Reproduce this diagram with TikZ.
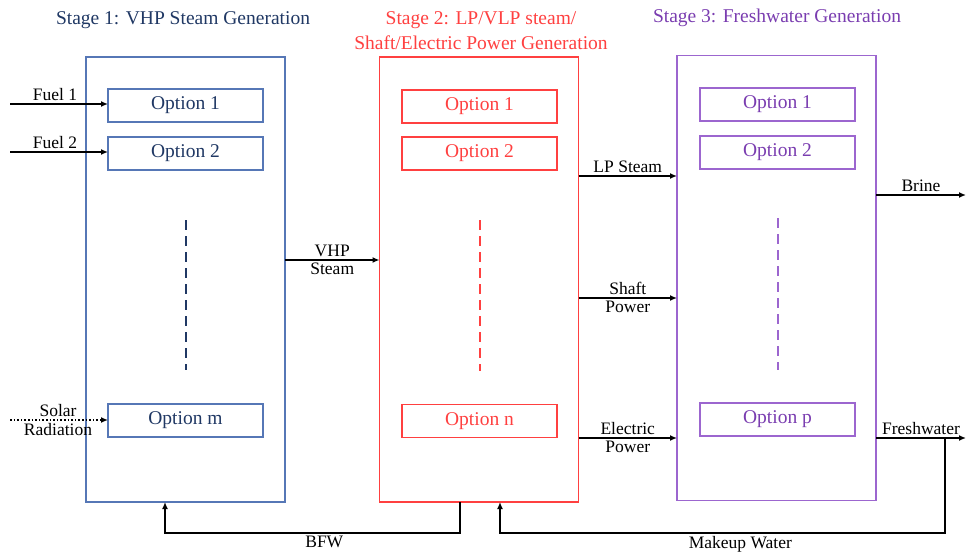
\documentclass[tikz,border=0pt]{standalone}
\usepackage{fontspec}
\setmainfont{Liberation Serif}
\newfontfamily\timesface{Liberation Serif}
\usetikzlibrary{arrows.meta}

\definecolor{soneline}{HTML}{5677B6}
\definecolor{sonetext}{HTML}{203864}
\definecolor{stwoline}{HTML}{FF4040}
\definecolor{sthreeline}{HTML}{9C66CF}
\definecolor{sthreetext}{HTML}{7A3DB0}

\begin{document}
\begin{tikzpicture}[
  x=1pt, y=-1pt,
  stage/.style ={draw, line width=1.1pt, minimum width=199pt, minimum height=445pt,
                 inner sep=0pt, outer sep=0pt},
  opt/.style   ={draw, line width=1.1pt, minimum width=155pt, minimum height=33pt,
                 inner sep=0pt, outer sep=0pt, font=\timesface\fontsize{19.5}{21}\selectfont},
  ttl/.style   ={align=center, font=\timesface\fontsize{19.5}{25}\selectfont},
  lbl/.style   ={font=\timesface\fontsize{17.5}{19}\selectfont, inner sep=2.5pt},
  arr/.style   ={-{Latex[length=7pt,width=6pt]}, line width=1.8pt},
  darr/.style  ={-{Latex[length=7pt,width=6pt]}, line width=1.6pt, dotted},
  vdash/.style ={dash pattern=on 10pt off 6pt, line width=2pt},
]
\useasboundingbox (0,0) rectangle (967,557);

%% ---- Stage 1: VHP steam ----
\node[ttl, text=sonetext] (t1) at (183,20) {Stage 1: VHP Steam Generation};
\node[stage, draw=soneline] (s1) at (185.5,279.5) {};
\node[opt, draw=soneline, text=sonetext] (a1) at (185.5,105.5) {Option 1};
\node[opt, draw=soneline, text=sonetext] (a2) at (185.5,153.5) {Option 2};
\node[opt, draw=soneline, text=sonetext] (am) at (185.5,420.5) {Option m};
\draw[vdash, draw=sonetext] ([yshift=-50pt]a2.south) -- ([yshift=34pt]am.north);

%% ---- Stage 2: LP/VLP steam, shaft and electric power ----
\node[ttl, text=stwoline] (t2) at (481,30.5) {Stage 2: LP/VLP steam/\\Shaft/Electric Power Generation};
\node[stage, draw=stwoline] (s2) at (479,279.5) {};
\node[opt, draw=stwoline, text=stwoline] (b1) at (479.5,106.5) {Option 1};
\node[opt, draw=stwoline, text=stwoline] (b2) at (479.5,153.5) {Option 2};
\node[opt, draw=stwoline, text=stwoline] (bn) at (479.5,421) {Option n};
\draw[vdash, draw=stwoline] ([yshift=-50pt]b2.south) -- ([yshift=34pt]bn.north);

%% ---- Stage 3: freshwater ----
\node[ttl, text=sthreetext] (t3) at (777,18) {Stage 3: Freshwater Generation};
\node[stage, draw=sthreeline] (s3) at (776.5,278) {};
\node[opt, draw=sthreeline, text=sthreetext] (c1) at (777.5,104.5) {Option 1};
\node[opt, draw=sthreeline, text=sthreetext] (c2) at (777.5,152.5) {Option 2};
\node[opt, draw=sthreeline, text=sthreetext] (cp) at (777.5,419.5) {Option p};
\draw[vdash, draw=sthreeline] ([yshift=-49pt]c2.south) -- ([yshift=33pt]cp.north);

%% free ends
\coordinate (fuel1) at (10,104);
\coordinate (fuel2) at (10,152);
\coordinate (solar) at (10,420);
\coordinate (brine) at (966,195);
\coordinate (fresh) at (966,438);
\coordinate (fwtap) at (945,438);

%% ---- Arrows ----
%% feeds into stage 1
\draw[arr] (fuel1) -- (fuel1 -| a1.west) node[lbl, midway, above, xshift=-4pt]{Fuel 1};
\draw[arr] (fuel2) -- (fuel2 -| a2.west) node[lbl, midway, above, xshift=-4pt]{Fuel 2};
\draw[darr] (solar) -- (solar -| am.west)
  node[lbl, midway, above, xshift=-1pt]{Solar} node[lbl, midway, below, xshift=-1pt]{Radiation};
%% stage 1 -> stage 2
\draw[arr] ([yshift=19.5pt]s1.east) coordinate (vhp) -- (vhp -| s2.west)
  node[lbl, midway, above]{VHP} node[lbl, midway, below]{Steam};
%% stage 2 -> stage 3
\draw[arr] ([yshift=103.5pt]s2.east) coordinate (lp) -- (lp -| s3.west)
  node[lbl, midway, above]{LP Steam};
\draw[arr] ([yshift=-18.5pt]s2.east) coordinate (shaft) -- (shaft -| s3.west)
  node[lbl, midway, above]{Shaft} node[lbl, midway, below]{Power};
\draw[arr] ([yshift=-158.5pt]s2.east) coordinate (elec) -- (elec -| s3.west)
  node[lbl, midway, above]{Electric} node[lbl, midway, below]{Power};
%% stage 3 products
\draw[arr] (s3.east |- brine) -- (brine) node[lbl, midway, above]{Brine};
\draw[arr] (s3.east |- fresh) -- (fresh) node[lbl, midway, above]{Freshwater};
%% recycles
\draw[arr] (fwtap) -- ++(0,95) -| ([xshift=21pt]s2.south)
  node[lbl, pos=0.23, below]{Makeup Water};
\draw[arr] ([xshift=-19pt]s2.south) -- ++(0,31) -| ([xshift=-20.5pt]s1.south)
  node[lbl, pos=0.23, below]{BFW};

\end{tikzpicture}
\end{document}
